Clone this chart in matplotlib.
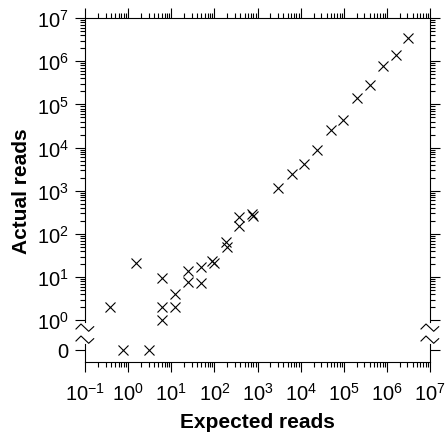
import matplotlib
matplotlib.use("Agg")
import matplotlib.pyplot as plt
from matplotlib.ticker import FixedLocator, FixedFormatter, NullFormatter

plt.rcParams['font.family'] = ['Liberation Sans', 'DejaVu Sans']
plt.rcParams['mathtext.fontset'] = 'custom'
plt.rcParams['mathtext.rm'] = 'Liberation Sans'
plt.rcParams['axes.unicode_minus'] = False

# ---- data ----
expected = [0.37, 0.75, 1.5, 3.05, 6.0, 6.0, 6.0, 12, 12, 25, 25, 48, 48, 90, 98,
            187, 194, 380, 380, 738, 803, 3055, 6250, 12250, 24500, 51000, 98400,
            201000, 410000, 807000, 1.64e6, 3.17e6]
actual = [2.07, 0, 21, 0, 9.4, 2.0, 1.0, 4.1, 2.0, 13.9, 7.6, 17, 7.3, 24, 21,
          66, 51, 244, 156, 290, 257, 1143, 2450, 4170, 8930, 25500, 44300,
          138000, 286000, 787000, 1.41e6, 3.44e6]

x_major = [10.0 ** k for k in range(-1, 8)]
x_labels = [r'$\mathregular{10^{%d}}$' % k for k in range(-1, 8)]
y_decades = [10.0 ** k for k in range(0, 8)]
y_labels = ['0'] + [r'$\mathregular{10^{%d}}$' % k for k in range(0, 8)]
ZERO_POS = 10 ** -0.68  # where the value 0 is drawn below the axis break

fig = plt.figure(figsize=(4.45, 4.39), dpi=100)
ax = fig.add_axes([85 / 445, 1 - 363 / 439, 345 / 445, 344 / 439])

ys = [ZERO_POS if v == 0 else v for v in actual]
ax.plot(expected, ys, linestyle='none', marker='x', markersize=7.8,
        markeredgewidth=0.8, color='black', clip_on=False)

ax.set_xscale('log')
ax.set_yscale('log')
ax.set_xlim(1e-1, 1e7)
ax.set_ylim(10 ** -0.965, 1e7)

ax.xaxis.set_major_locator(FixedLocator(x_major))
ax.xaxis.set_major_formatter(FixedFormatter(x_labels))
ax.xaxis.set_minor_locator(FixedLocator([m * 10.0 ** k for k in range(-1, 7) for m in range(2, 10)]))
ax.xaxis.set_minor_formatter(NullFormatter())

ax.yaxis.set_major_locator(FixedLocator([ZERO_POS] + y_decades))
ax.yaxis.set_major_formatter(FixedFormatter(y_labels))
ax.yaxis.set_minor_locator(FixedLocator([m * 10.0 ** k for k in range(0, 7) for m in range(2, 10)]))
ax.yaxis.set_minor_formatter(NullFormatter())

ax.tick_params(which='both', direction='out', top=True, right=True,
               labeltop=False, labelright=False, width=0.8, color='black')
ax.tick_params(which='major', length=7.2, labelsize=14.5)
ax.tick_params(axis='y', which='major', pad=4.5)
ax.tick_params(axis='x', which='major', pad=7)
ax.tick_params(which='minor', length=3.6)

for s in ['top', 'bottom']:
    ax.spines[s].set_linewidth(0.8)
ax.spines['left'].set_visible(False)
ax.spines['right'].set_visible(False)

# broken left/right spines with zig-zag break marks
W, H = 345.0, 344.0
y_a = (363 - 323) / H
y_b = (363 - 345) / H
for xs in (0.0, 1.0):
    ax.plot([xs, xs], [y_a, 1.0], transform=ax.transAxes, color='black', lw=0.8, clip_on=False)
    ax.plot([xs, xs], [0.0, y_b], transform=ax.transAxes, color='black', lw=0.8, clip_on=False)
    for yc in ((363 - 329) / H, (363 - 341) / H):
        zx = [xs + d / W for d in (-9, -4, 3.7, 8.7)]
        zy = [yc + d / H for d in (-1, 4, -3.3, 1.3)]
        ax.plot(zx, zy, transform=ax.transAxes, color='black', lw=0.8, clip_on=False)

ax.set_xlabel('Expected reads', fontsize=15, fontweight='bold', labelpad=6)
ax.set_ylabel('Actual reads', fontsize=15, fontweight='bold', labelpad=4)

fig.savefig('out.png', dpi=100)
